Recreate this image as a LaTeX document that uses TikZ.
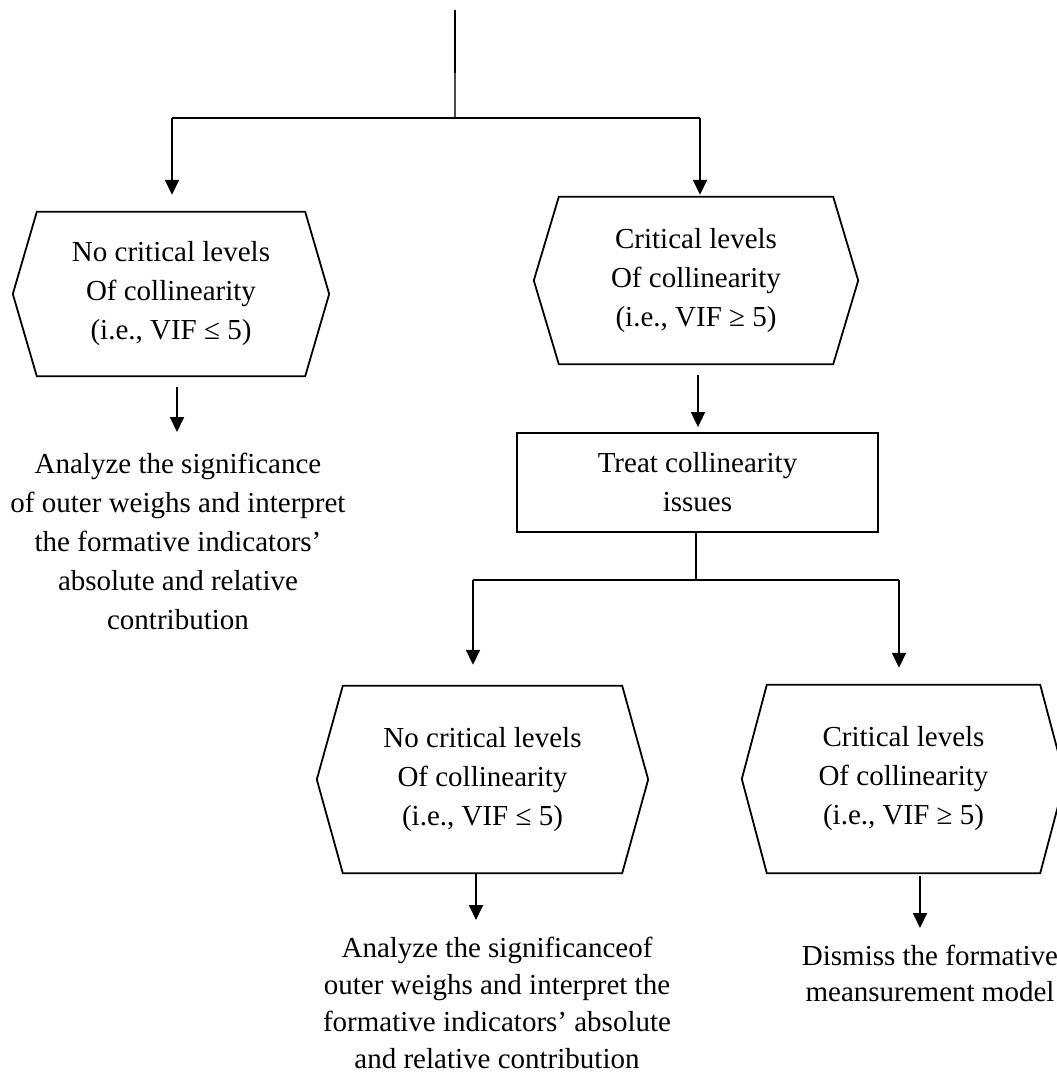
\documentclass[tikz,border=0pt]{standalone}
\usepackage{fontspec}
\setmainfont{Liberation Serif}
\usetikzlibrary{arrows.meta}

% hexagon drawn around a rectangular node, with pointed left/right ends
\newcommand\hexagonaround[2]{%
  \draw[edge] (#1.north west) -- (#1.north east) -- ([xshift=#2]#1.east)
    -- (#1.south east) -- (#1.south west) -- ([xshift=-#2]#1.west) -- cycle;}

\begin{document}
\begin{tikzpicture}[x=1pt,y=-1pt,
  edge/.style={line width=1.8pt, draw=black, line join=miter},
  conn/.style={line width=1.8pt, draw=black},
  arr/.style={conn, -{Triangle[length=15pt,width=14pt]}},
  txt/.style={font=\fontsize{29}{39}\selectfont, align=center, inner sep=0pt},
  hexbox/.style={txt, minimum width=#1},
  rectbox/.style={txt, draw, line width=1.8pt, minimum width=361pt, minimum height=99pt}
]
\useasboundingbox (0,0) rectangle (1057,1082);
\clip (0,0) rectangle (1057,1082);

% decision hexagons
\node[hexbox=268pt, minimum height=164pt] (h1) at (171,294)
  {No critical levels\\Of collinearity\\(i.e., VIF ≤ 5)};
\hexagonaround{h1}{24pt}
\node[hexbox=274pt, minimum height=167pt] (h2) at (696,280.5)
  {Critical levels\\Of collinearity\\(i.e., VIF ≥ 5)};
\hexagonaround{h2}{25pt}
\node[hexbox=279pt, minimum height=187pt] (h3) at (482.5,779.5)
  {No critical levels\\Of collinearity\\(i.e., VIF ≤ 5)};
\hexagonaround{h3}{26pt}
\node[hexbox=273pt, minimum height=188pt] (h4) at (903.5,779)
  {Critical levels\\Of collinearity\\(i.e., VIF ≥ 5)};
\hexagonaround{h4}{25pt}

% process box
\node[rectbox] (r1) at (697.5,482.5) {Treat collinearity\\issues};

% outcome texts
\node[txt, anchor=north] (t1) at (178,453)
  {Analyze the significance\\of outer weighs and interpret\\the formative indicators’\\absolute and relative\\contribution};
\node[txt, anchor=north, font=\fontsize{29}{37}\selectfont] (t2) at (497,937)
  {Analyze the significanceof\\outer weighs and interpret the\\formative indicators’ absolute\\and relative contribution};
\node[txt, anchor=north, font=\fontsize{29}{36}\selectfont] (t3) at (930,945)
  {Dismiss the formative\\meansurement model};

% junction points
\coordinate (top) at (455,10);
\coordinate (mid) at (455,73);
\coordinate (j0) at (455,118);
\coordinate (j0l) at (172,118);
\coordinate (j0r) at (700,118);
\coordinate (j1) at (696,580);
\coordinate (j1l) at (473,580);
\coordinate (j1r) at (899,580);
\coordinate (c1) at (177,0);
\coordinate (c2) at (698,0);
\coordinate (c3) at (476,0);
\coordinate (c4) at (920,0);

% incoming stem and first split
\draw[line width=2.8pt] (top) -- (mid);
\draw[line width=1.8pt, black!70] (mid) -- (j0);
\draw[conn] (j0l) -- (j0r);
\draw[arr, shorten >=17pt] (j0l) -- (j0l |- h1.north);
\draw[arr, shorten >=2pt] (j0r) -- (j0r |- h2.north);

% left branch
\draw[arr, shorten <=11pt, shorten >=21pt] (c1 |- h1.south) -- (c1 |- t1.north);

% right branch
\draw[arr, shorten <=11pt, shorten >=5pt] (c2 |- h2.south) -- (c2 |- r1.north);
\draw[conn] (j1 |- r1.south) -- (j1);
\draw[conn] (j1l) -- (j1r);
\draw[arr, shorten >=21pt] (j1l) -- (j1l |- h3.north);
\draw[arr, shorten >=17pt] (j1r) -- (j1r |- h4.north);
\draw[arr, shorten >=17pt] (c3 |- h3.south) -- (c3 |- t2.north);
\draw[arr, shorten <=3pt, shorten >=17pt] (c4 |- h4.south) -- (c4 |- t3.north);
\end{tikzpicture}
\end{document}
